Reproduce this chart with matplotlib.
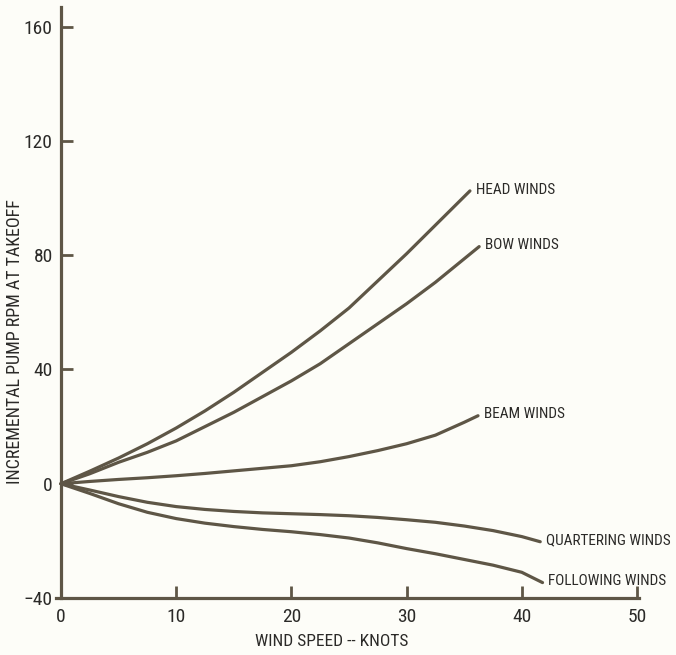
import matplotlib
matplotlib.use("Agg")
import matplotlib.pyplot as plt

# values (wind speed in knots, incremental pump RPM)
head_x = [0, 2.5, 5, 7.5, 10, 12.5, 15, 17.5, 20, 22.5, 25, 27.5, 30, 32.5, 35.5]
head_y = [0, 4.4, 9, 14, 19.5, 25.5, 32, 39, 46, 53.5, 61.5, 71, 80.5, 90.5, 102.5]

bow_x = [0, 2.5, 5, 7.5, 10, 12.5, 15, 17.5, 20, 22.5, 25, 27.5, 30, 32.5, 36.3]
bow_y = [0, 3.5, 7.5, 11, 15, 20, 25, 30.5, 36, 42, 49, 56, 63, 70.5, 83]

beam_x = [0, 2.5, 5, 7.5, 10, 12.5, 15, 17.5, 20, 22.5, 25, 27.5, 30, 32.5, 35, 36.2]
beam_y = [0, 0.8, 1.5, 2.1, 2.8, 3.6, 4.5, 5.4, 6.3, 7.7, 9.5, 11.6, 14, 17, 21.5, 23.8]

quart_x = [0, 2.5, 5, 7.5, 10, 12.5, 15, 17.5, 20, 22.5, 25, 27.5, 30, 32.5, 35, 37.5, 40, 41.6]
quart_y = [0, -2.2, -4.5, -6.5, -8, -9, -9.7, -10.2, -10.5, -10.8, -11.2, -11.8, -12.6,
           -13.5, -14.8, -16.4, -18.5, -20.3]

follow_x = [0, 2.5, 5, 7.5, 10, 12.5, 15, 17.5, 20, 22.5, 25, 27.5, 30, 32.5, 35, 37.5, 40, 41.8]
follow_y = [0, -3.4, -7, -10, -12.2, -13.8, -15, -16, -16.8, -17.8, -19, -20.7, -22.7,
            -24.5, -26.5, -28.5, -31, -34.6]

series = [
    ("HEAD WINDS", head_x, head_y),
    ("BOW WINDS", bow_x, bow_y),
    ("BEAM WINDS", beam_x, beam_y),
    ("QUARTERING WINDS", quart_x, quart_y),
    ("FOLLOWING WINDS", follow_x, follow_y),
]

x_ticks = [0, 10, 20, 30, 40, 50]
y_ticks = [-40, 0, 40, 80, 120, 160]

FONT = ["Roboto Condensed", "DejaVu Sans"]
INK = "#5e5646"
TEXT = "#2b2a28"
BG = "#fdfdf8"

fig = plt.figure(figsize=(6.76, 6.55), dpi=100, facecolor=BG)
ax = fig.add_axes([0.0834, 0.0870, 0.8623, 0.9029], facecolor=BG)

for name, xs, ys in series:
    ax.plot(xs, ys, color=INK, linewidth=2.3, solid_capstyle="round",
            solid_joinstyle="round")
    ax.annotate(name, xy=(xs[-1], ys[-1]), xytext=(4, 1), textcoords="offset points",
                va="center", ha="left", fontsize=11, family=FONT, color=TEXT)

ax.set_xlim(-0.4, 50.2)
ax.set_ylim(-40, 167)
ax.spines["left"].set_position(("data", 0))
for side in ("top", "right"):
    ax.spines[side].set_visible(False)
for side in ("left", "bottom"):
    ax.spines[side].set_color(INK)
    ax.spines[side].set_linewidth(2.3)

ax.set_xticks(x_ticks)
ax.set_yticks(y_ticks)
ax.tick_params(direction="in", length=8.5, width=2, color=INK, labelcolor=TEXT)
ax.tick_params(axis="x", pad=7)
ax.tick_params(axis="y", pad=6)
for lbl in ax.get_xticklabels() + ax.get_yticklabels():
    lbl.set_family(FONT)
    lbl.set_fontsize(14)

fig.text(332 / 676, 1 - 641 / 655, "WIND SPEED -- KNOTS", ha="center", va="center",
         fontsize=12.5, family=FONT, color=TEXT)
fig.text(15 / 676, 1 - 342 / 655, "INCREMENTAL PUMP RPM AT TAKEOFF", ha="center",
         va="center", rotation=90, fontsize=13, family=FONT, color=TEXT)

fig.savefig("out.png", dpi=100, facecolor=BG)
